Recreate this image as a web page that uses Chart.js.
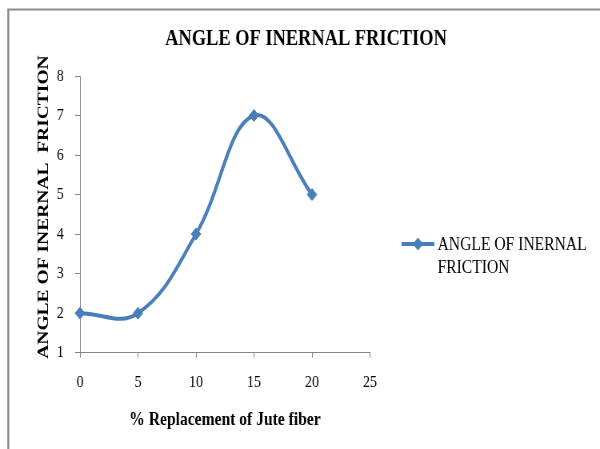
<!DOCTYPE html>
<html>
<head>
<meta charset="utf-8">
<script src="https://cdn.jsdelivr.net/npm/chart.js@4"></script>
<style>
  html, body { margin: 0; padding: 0; background: #fff; overflow: hidden; }
  #wrap { width: 600px; height: 449px; overflow: hidden; }
  /* the drawing is laid out 750 wide and narrowed to 600 */
  canvas { display: block; transform: scaleX(0.8); transform-origin: 0 0; }
</style>
</head>
<body>
<div id="wrap"><canvas id="chart" width="750" height="449"></canvas></div>
<script>
const chartTitle = 'ANGLE OF INERNAL FRICTION';
const seriesName = 'ANGLE OF INERNAL FRICTION';
const legendLines = ['ANGLE OF INERNAL', 'FRICTION'];
const xAxisTitle = '% Replacement of Jute fiber';
const yAxisTitle = '   ANGLE OF INERNAL  FRICTION';

const replacement = [0, 5, 10, 15, 20];
const frictionAngle = [2, 2, 4, 7, 5];

const xTickValues = [0, 5, 10, 15, 20, 25];
const yTickValues = [1, 2, 3, 4, 5, 6, 7, 8];

const lineColor = '#4a7ebb';
const axisColor = '#868686';
const serif = '"Liberation Serif", "Times New Roman", serif';

const points = replacement.map((x, i) => ({ x: x, y: frictionAngle[i] }));

const decorations = {
  id: 'decorations',
  beforeDraw(chart) {
    const ctx = chart.ctx;
    ctx.save();
    ctx.fillStyle = '#ffffff';
    ctx.fillRect(0, 0, chart.width, chart.height);
    ctx.restore();
  },
  afterDraw(chart) {
    const ctx = chart.ctx;
    const area = chart.chartArea;
    ctx.save();

    // outer frame (top and left edges)
    ctx.strokeStyle = '#8c8c8c';
    ctx.lineWidth = 2;
    ctx.beginPath();
    ctx.moveTo(9.5, 9.5);
    ctx.lineTo(chart.width, 9.5);
    ctx.stroke();
    ctx.lineWidth = 2.5;
    ctx.beginPath();
    ctx.moveTo(10.4, 9);
    ctx.lineTo(10.4, chart.height);
    ctx.stroke();

    // chart title
    ctx.fillStyle = '#000000';
    ctx.font = 'bold 23px ' + serif;
    ctx.textAlign = 'center';
    ctx.textBaseline = 'middle';
    ctx.fillText(chartTitle, 382.5, 39.5);

    // legend: line sample with marker, then two text lines
    const ds = chart.data.datasets[0];
    const lx = area.right + 39.5;
    const ly = 244;
    ctx.strokeStyle = ds.borderColor;
    ctx.lineWidth = ds.borderWidth;
    ctx.beginPath();
    ctx.moveTo(lx, ly);
    ctx.lineTo(lx + 41, ly);
    ctx.stroke();
    ctx.fillStyle = ds.pointBackgroundColor;
    ctx.strokeStyle = ds.pointBorderColor;
    ctx.lineWidth = ds.pointBorderWidth;
    Chart.helpers.drawPoint(ctx, {
      pointStyle: ds.pointStyle,
      radius: ds.pointRadius,
      borderWidth: ds.pointBorderWidth,
      rotation: 0
    }, lx + 20.5, ly);

    ctx.fillStyle = '#000000';
    ctx.font = '19.5px ' + serif;
    ctx.textAlign = 'left';
    ctx.textBaseline = 'middle';
    legendLines.forEach((line, i) => {
      ctx.fillText(line, lx + 45, 245 + i * 22.4);
    });
    ctx.restore();
  }
};

new Chart(document.getElementById('chart'), {
  type: 'scatter',
  data: {
    datasets: [{
      label: seriesName,
      data: points,
      showLine: true,
      tension: 0.4,
      borderColor: lineColor,
      borderWidth: 4,
      pointStyle: 'rectRot',
      pointRadius: 6,
      pointBorderWidth: 1,
      pointBackgroundColor: lineColor,
      pointBorderColor: lineColor,
      clip: false
    }]
  },
  options: {
    responsive: false,
    animation: false,
    devicePixelRatio: 1,
    layout: { padding: { top: 76, left: 0, right: 287.5, bottom: 0 } },
    plugins: {
      legend: { display: false },
      title: { display: false },
      tooltip: { enabled: false }
    },
    scales: {
      x: {
        type: 'linear',
        min: xTickValues[0],
        max: xTickValues[xTickValues.length - 1],
        afterBuildTicks: (scale) => { scale.ticks = xTickValues.map(v => ({ value: v })); },
        afterFit: (scale) => { scale.height = 96.3; },
        grid: { drawOnChartArea: false, drawTicks: true, tickLength: 5, color: axisColor, lineWidth: 1 },
        border: { color: axisColor, width: 1 },
        ticks: { color: '#000000', padding: 14.6, font: { family: serif, size: 17.5 } },
        title: {
          display: true,
          text: xAxisTitle,
          color: '#000000',
          font: { family: serif, size: 19.5, weight: 'bold' },
          padding: { top: 0, bottom: 17.6 }
        }
      },
      y: {
        type: 'linear',
        min: yTickValues[0],
        max: yTickValues[yTickValues.length - 1],
        afterBuildTicks: (scale) => { scale.ticks = yTickValues.map(v => ({ value: v })); },
        afterFit: (scale) => { scale.width = 100; },
        grid: { drawOnChartArea: false, drawTicks: true, tickLength: 6.25, color: axisColor, lineWidth: 1 },
        border: { color: axisColor, width: 1 },
        ticks: { color: '#000000', padding: 14, font: { family: serif, size: 17.5 } },
        title: {
          display: true,
          text: yAxisTitle,
          color: '#000000',
          font: { family: serif, size: 19.5, weight: 'bold' },
          padding: { top: 43.1, bottom: 0 }
        }
      }
    }
  },
  plugins: [decorations]
});
</script>
</body>
</html>
